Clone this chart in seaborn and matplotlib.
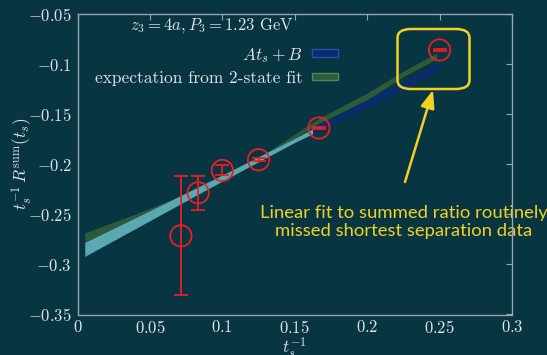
import matplotlib
matplotlib.use("Agg")
import matplotlib.pyplot as plt
import seaborn as sns
import pandas as pd
from matplotlib.patches import FancyBboxPatch, Patch, Rectangle

# Summed-ratio data points: inverse source-sink separation vs t_s^-1 R^sum(t_s)
inv_ts = [0.0714, 0.0833, 0.1, 0.125, 0.1667, 0.25]
ratio = [-0.2715, -0.2285, -0.2062, -0.1955, -0.1638, -0.0859]
ratio_err = [0.0595, 0.0170, 0.0050, 0.0017, 0.0008, 0.0007]

# Linear fit band  A t_s + B
fit_x = [0.005, 0.05, 0.1, 0.15, 0.2, 0.25]
fit_lo = [-0.2920, -0.2563, -0.2167, -0.1782, -0.1435, -0.1058]
fit_hi = [-0.2780, -0.2463, -0.2107, -0.1742, -0.1355, -0.0981]

# Expectation band from the 2-state fit
exp_x = [0.005, 0.04, 0.07, 0.1, 0.13, 0.1667, 0.2, 0.225, 0.248]
exp_hi = [-0.2685, -0.2496, -0.2325, -0.2130, -0.1890, -0.1540, -0.1290, -0.1070, -0.0890]
exp_lo = [-0.2790, -0.2560, -0.2380, -0.2175, -0.1925, -0.1590, -0.1355, -0.1125, -0.0948]

x_ticks = [0, 0.05, 0.1, 0.15, 0.2, 0.25, 0.3]
x_ticklabels = ["0", "0.05", "0.1", "0.15", "0.2", "0.25", "0.3"]
y_ticks = [-0.35, -0.3, -0.25, -0.2, -0.15, -0.1, -0.05]
y_ticklabels = ["-0.35", "-0.3", "-0.25", "-0.2", "-0.15", "-0.1", "-0.05"]

BG = "#073642"
FG = "#dfe3e6"
SPINE = "#9aa6ad"
RED = "#ee1c25"
YELLOW = "#f2d024"
BLUE = "#0b2b6e"
GREEN = "#2d5b3a"
CYAN = "#5aa9b1"

sns.set_theme(style="white")
plt.rcParams.update({
    "font.family": ["cmr10", "DejaVu Serif"],
    "mathtext.fontset": "cm",
    "axes.unicode_minus": False,
    "axes.formatter.use_mathtext": True,
})

fig = plt.figure(figsize=(5.47, 3.55), dpi=100, facecolor=BG)
ax = fig.add_axes([77.5 / 547, 1 - 314.5 / 355, (512 - 77.5) / 547, (314.5 - 14) / 355])
ax.set_facecolor(BG)

# Bands
ax.fill_between(exp_x, exp_lo, exp_hi, color=GREEN, lw=0, zorder=1)
ax.fill_between(fit_x, fit_lo, fit_hi, color=BLUE, lw=0, zorder=1.1)
inner = ax.fill_between(fit_x, fit_lo, fit_hi, color=CYAN, lw=0, zorder=1.2)
inner.set_clip_path(Rectangle((0.0, -0.4), 0.162, 0.4, transform=ax.transData))

# Data points
df = pd.DataFrame({"x": inv_ts, "y": ratio, "err": ratio_err})
ax.errorbar(df["x"], df["y"], yerr=df["err"], fmt="none", ecolor=RED,
            elinewidth=1.3, capsize=5, capthick=1.3, zorder=3)
sns.scatterplot(data=df, x="x", y="y", ax=ax, marker="o", s=235,
                facecolors="none", edgecolor=RED, linewidth=1.3, zorder=4,
                legend=False)

ax.set_xlim(0, 0.3)
ax.set_ylim(-0.35, -0.05)
ax.set_xticks(x_ticks)
ax.set_xticklabels([f"${t}$" for t in x_ticklabels])
ax.set_yticks(y_ticks)
ax.set_yticklabels([f"${t}$" for t in y_ticklabels])
ax.tick_params(direction="in", length=4, width=0.8, color=SPINE, labelcolor=FG,
               labelsize=12, top=True, right=True, pad=3)
ax.tick_params(axis="y", pad=4)
for s in ax.spines.values():
    s.set_color(SPINE)
    s.set_linewidth(1.0)

ax.set_xlabel(r"$t_s^{-1}$", color=FG, fontsize=12.5)
ax.xaxis.set_label_coords(0.5, -0.068)
ax.set_ylabel(r"$t_s^{-1}\,R^{\rm sum}(t_s)$", color=FG, fontsize=12.5)
ax.yaxis.set_label_coords(-0.1, 0.5)

ax.text(0.31, 0.962, r"$z_3 = 4a, P_3 = 1.23\ \mathrm{GeV}$", transform=ax.transAxes,
        ha="center", va="center", color=FG, fontsize=12)

handles = [Patch(facecolor=BLUE, edgecolor="#2451a3", lw=1.0),
           Patch(facecolor=GREEN, edgecolor="#4b8a5c", lw=1.0)]
labels = [r"$At_s + B$", "expectation from 2-state fit"]
leg = ax.legend(handles, labels, loc="upper right", bbox_to_anchor=(0.6, 0.895),
                frameon=False, markerfirst=False, fontsize=12.5, handlelength=1.5,
                handleheight=0.3, handletextpad=0.55, labelspacing=0.35,
                borderpad=0.0, borderaxespad=0.0)
for t in leg.get_texts():
    t.set_color(FG)

# Highlight box around the shortest separation point and arrow
box = FancyBboxPatch((397.5 / 547, 1 - 89 / 355), 72 / 547, 60 / 355,
                     boxstyle="round,pad=0,rounding_size=0.025",
                     transform=fig.transFigure, fill=False, edgecolor=YELLOW,
                     lw=1.8, zorder=5)
fig.patches.append(box)
ax.annotate("", xy=(433 / 547, 1 - 90 / 355), xytext=(405 / 547, 1 - 182 / 355),
            xycoords="figure fraction", textcoords="figure fraction",
            arrowprops=dict(arrowstyle="-|>,head_length=0.9,head_width=0.35",
                            color=YELLOW, lw=1.8, shrinkA=0, shrinkB=0))

ax.text(404 / 547, 1 - 222 / 355,
        "Linear fit to summed ratio routinely\nmissed shortest separation data",
        transform=fig.transFigure, ha="center", va="center", color=YELLOW,
        fontsize=13.3, family="Lato", linespacing=1.12, zorder=2, clip_on=False)

fig.savefig("out.png", dpi=100, facecolor=BG)
